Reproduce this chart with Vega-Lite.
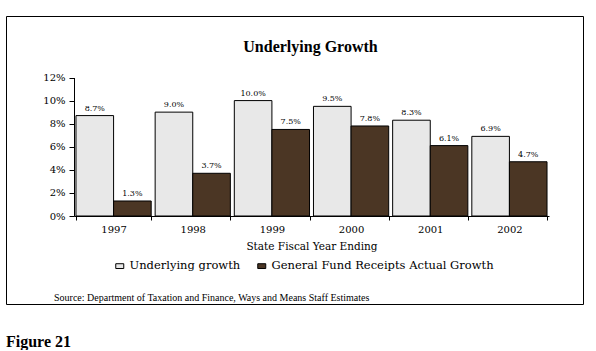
{
  "$schema": "https://vega.github.io/schema/vega-lite/v6.json",
  "padding": {"left": 5, "top": 15, "right": 5, "bottom": 0},
  "background": "white",
  "title": {"text": "Figure 21", "orient": "bottom", "anchor": "start", "frame": "group", "font": "Liberation Serif", "fontSize": 16, "fontWeight": "bold", "color": "black", "offset": 29},
  "vconcat": [
    {
      "title": {"text": "Source: Department of Taxation and Finance, Ways and Means Staff Estimates", "orient": "bottom", "anchor": "start", "frame": "group", "dx": 48, "offset": -12, "font": "Liberation Serif", "fontSize": 10, "fontWeight": "normal", "color": "black"},
      "vconcat": [
        {
          "title": {"text": "Underlying Growth", "orient": "top", "anchor": "middle", "frame": "group", "dx": 16, "offset": -39, "font": "Liberation Serif", "fontSize": 16, "fontWeight": "bold", "color": "black"},
          "width": 577,
          "height": 288,
          "data": {
            "values": [
              {"year": "1997", "series": "Underlying growth", "value": 0.087},
              {"year": "1997", "series": "General Fund Receipts Actual Growth", "value": 0.013},
              {"year": "1998", "series": "Underlying growth", "value": 0.090},
              {"year": "1998", "series": "General Fund Receipts Actual Growth", "value": 0.037},
              {"year": "1999", "series": "Underlying growth", "value": 0.100},
              {"year": "1999", "series": "General Fund Receipts Actual Growth", "value": 0.075},
              {"year": "2000", "series": "Underlying growth", "value": 0.095},
              {"year": "2000", "series": "General Fund Receipts Actual Growth", "value": 0.078},
              {"year": "2001", "series": "Underlying growth", "value": 0.083},
              {"year": "2001", "series": "General Fund Receipts Actual Growth", "value": 0.061},
              {"year": "2002", "series": "Underlying growth", "value": 0.069},
              {"year": "2002", "series": "General Fund Receipts Actual Growth", "value": 0.047}
            ]
          },
          "encoding": {
            "x": {
              "field": "year", "type": "nominal",
              "scale": {"range": [68, 543], "paddingInner": 0.05, "paddingOuter": 0.025},
              "axis": {"orient": "bottom", "offset": -88, "labelAngle": 0, "tickBand": "extent", "tickSize": 4, "domainColor": "black", "tickColor": "black", "labelFont": "DejaVu Serif", "labelFontSize": 10, "labelColor": "black", "labelPadding": 4, "title": "State Fiscal Year Ending", "titleFont": "DejaVu Serif", "titleFontSize": 10.5, "titleFontWeight": "normal", "titleColor": "black", "titlePadding": 7, "grid": false}
            },
            "xOffset": {"field": "series", "type": "nominal", "scale": {"domain": ["Underlying growth", "General Fund Receipts Actual Growth"], "paddingInner": 0, "paddingOuter": 0}},
            "y": {
              "field": "value", "type": "quantitative",
              "scale": {"domain": [0, 0.12], "range": [200, 61.5], "nice": false},
              "axis": {"orient": "left", "offset": -68, "format": ".0%", "values": [0, 0.02, 0.04, 0.06, 0.08, 0.1, 0.12], "grid": false, "domainColor": "black", "tickColor": "black", "tickSize": 5, "labelFont": "DejaVu Serif", "labelFontSize": 10, "labelColor": "black", "labelPadding": 4, "title": null}
            }
          },
          "layer": [
            {
              "mark": {"type": "bar", "stroke": "black", "strokeWidth": 1},
              "encoding": {
                "color": {
                  "field": "series", "type": "nominal",
                  "scale": {"domain": ["Underlying growth", "General Fund Receipts Actual Growth"], "range": ["#e8e8e8", "#4b3624"]},
                  "legend": {"orient": "none", "legendX": 108, "legendY": 244, "direction": "horizontal", "title": null, "symbolType": "M-1,-0.6H1V0.6H-1Z", "symbolSize": 64, "symbolStrokeColor": "black", "symbolStrokeWidth": 1, "labelFont": "DejaVu Serif", "labelFontSize": 11.5, "labelColor": "black", "columnPadding": 14, "labelOffset": 4, "labelLimit": 400, "padding": 0}
                }
              }
            },
            {
              "mark": {"type": "text", "baseline": "bottom", "dy": -3, "font": "DejaVu Serif", "fontSize": 8, "color": "black"},
              "encoding": {"text": {"field": "value", "type": "quantitative", "format": ".1%"}}
            }
          ]
        }
      ]
    }
  ],
  "config": {"view": {"stroke": "black", "strokeWidth": 1}}
}
